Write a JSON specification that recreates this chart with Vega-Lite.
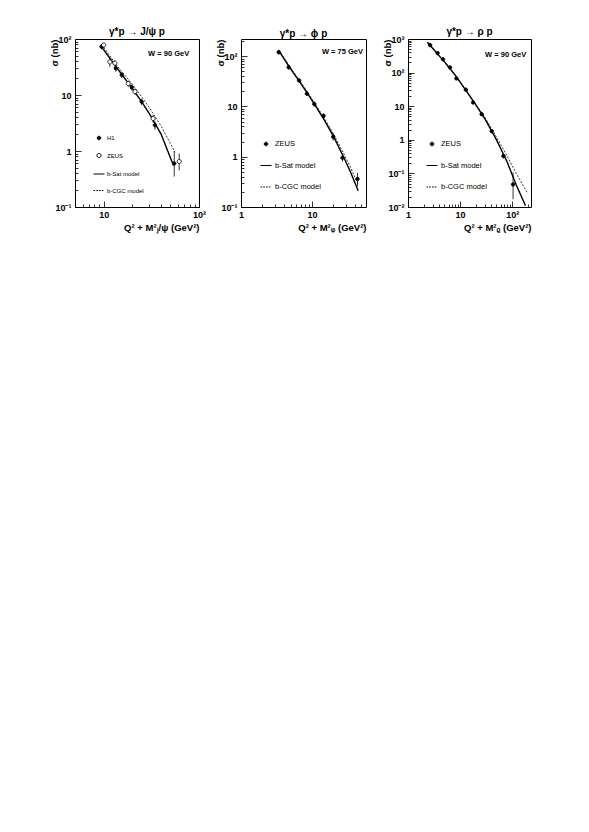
{
  "$schema": "https://vega.github.io/schema/vega-lite/v6.json",
  "background": "white",
  "padding": {"left": 49, "top": 26, "right": 5, "bottom": 5},
  "datasets": {
    "jpsi_pts": [
      {"series": "H1", "x": 9.5, "y": 73, "lo": 65, "hi": 81},
      {"series": "H1", "x": 13.4, "y": 30, "lo": 26, "hi": 34},
      {"series": "H1", "x": 15.5, "y": 22.8, "lo": 20, "hi": 25.6},
      {"series": "H1", "x": 19.7, "y": 13.7, "lo": 12, "hi": 15.4},
      {"series": "H1", "x": 25, "y": 7.6, "lo": 6.6, "hi": 8.6},
      {"series": "H1", "x": 34.5, "y": 2.9, "lo": 2.4, "hi": 3.4},
      {"series": "H1", "x": 55, "y": 0.6, "lo": 0.35, "hi": 1.0},
      {"series": "ZEUS", "x": 10, "y": 78, "lo": 70, "hi": 86},
      {"series": "ZEUS", "x": 11.6, "y": 39, "lo": 32, "hi": 45},
      {"series": "ZEUS", "x": 13.1, "y": 37, "lo": 32, "hi": 42},
      {"series": "ZEUS", "x": 18.1, "y": 16, "lo": 14, "hi": 18},
      {"series": "ZEUS", "x": 21.3, "y": 11.5, "lo": 10, "hi": 13},
      {"series": "ZEUS", "x": 33, "y": 3.8, "lo": 3.2, "hi": 4.4},
      {"series": "ZEUS", "x": 62, "y": 0.65, "lo": 0.45, "hi": 0.9}
    ],
    "jpsi_curves": [
      {"series": "b-Sat model", "x": 9.3, "y": 76},
      {"series": "b-Sat model", "x": 12, "y": 42},
      {"series": "b-Sat model", "x": 15, "y": 25},
      {"series": "b-Sat model", "x": 20, "y": 13},
      {"series": "b-Sat model", "x": 25, "y": 7.6},
      {"series": "b-Sat model", "x": 30, "y": 4.7},
      {"series": "b-Sat model", "x": 40, "y": 2.0},
      {"series": "b-Sat model", "x": 54, "y": 0.55},
      {"series": "b-CGC model", "x": 9.5, "y": 80},
      {"series": "b-CGC model", "x": 12, "y": 46},
      {"series": "b-CGC model", "x": 15, "y": 28},
      {"series": "b-CGC model", "x": 20, "y": 15.5},
      {"series": "b-CGC model", "x": 25, "y": 9.3},
      {"series": "b-CGC model", "x": 30, "y": 6.0},
      {"series": "b-CGC model", "x": 40, "y": 2.8},
      {"series": "b-CGC model", "x": 56, "y": 0.95}
    ],
    "phi_pts": [
      {"series": "ZEUS", "x": 3.4, "y": 120, "lo": 108, "hi": 132},
      {"series": "ZEUS", "x": 4.7, "y": 60, "lo": 54, "hi": 66},
      {"series": "ZEUS", "x": 6.6, "y": 33, "lo": 30, "hi": 36},
      {"series": "ZEUS", "x": 8.5, "y": 18, "lo": 16.2, "hi": 19.8},
      {"series": "ZEUS", "x": 10.8, "y": 11.2, "lo": 10, "hi": 12.4},
      {"series": "ZEUS", "x": 14.6, "y": 6.5, "lo": 5.7, "hi": 7.3},
      {"series": "ZEUS", "x": 20, "y": 2.5, "lo": 2.1, "hi": 2.9},
      {"series": "ZEUS", "x": 27, "y": 0.95, "lo": 0.8, "hi": 1.1},
      {"series": "ZEUS", "x": 44, "y": 0.36, "lo": 0.26, "hi": 0.48}
    ],
    "phi_curves": [
      {"series": "b-Sat model", "x": 3.4, "y": 130},
      {"series": "b-Sat model", "x": 4.7, "y": 64},
      {"series": "b-Sat model", "x": 6.6, "y": 32},
      {"series": "b-Sat model", "x": 8.5, "y": 19},
      {"series": "b-Sat model", "x": 10.7, "y": 11.5},
      {"series": "b-Sat model", "x": 14.7, "y": 5.6},
      {"series": "b-Sat model", "x": 20, "y": 2.6},
      {"series": "b-Sat model", "x": 27, "y": 1.1},
      {"series": "b-Sat model", "x": 35, "y": 0.5},
      {"series": "b-Sat model", "x": 45, "y": 0.21},
      {"series": "b-CGC model", "x": 3.4, "y": 135},
      {"series": "b-CGC model", "x": 4.7, "y": 67},
      {"series": "b-CGC model", "x": 6.6, "y": 34},
      {"series": "b-CGC model", "x": 8.5, "y": 20},
      {"series": "b-CGC model", "x": 10.7, "y": 12.3},
      {"series": "b-CGC model", "x": 14.7, "y": 6.1},
      {"series": "b-CGC model", "x": 20, "y": 2.9},
      {"series": "b-CGC model", "x": 27, "y": 1.3},
      {"series": "b-CGC model", "x": 35, "y": 0.62},
      {"series": "b-CGC model", "x": 45, "y": 0.28}
    ],
    "rho_pts": [
      {"series": "ZEUS", "x": 2.65, "y": 660, "lo": 600, "hi": 720},
      {"series": "ZEUS", "x": 3.7, "y": 380, "lo": 345, "hi": 415},
      {"series": "ZEUS", "x": 4.7, "y": 250, "lo": 228, "hi": 272},
      {"series": "ZEUS", "x": 6.4, "y": 143, "lo": 130, "hi": 156},
      {"series": "ZEUS", "x": 8.5, "y": 67, "lo": 61, "hi": 73},
      {"series": "ZEUS", "x": 12.9, "y": 31, "lo": 28, "hi": 34},
      {"series": "ZEUS", "x": 17.8, "y": 12.9, "lo": 11.7, "hi": 14.1},
      {"series": "ZEUS", "x": 26, "y": 5.8, "lo": 5.2, "hi": 6.4},
      {"series": "ZEUS", "x": 40.6, "y": 1.8, "lo": 1.6, "hi": 2.0},
      {"series": "ZEUS", "x": 68, "y": 0.33, "lo": 0.28, "hi": 0.38},
      {"series": "ZEUS", "x": 104, "y": 0.047, "lo": 0.017, "hi": 0.107}
    ],
    "rho_curves": [
      {"series": "b-Sat model", "x": 2.36, "y": 800},
      {"series": "b-Sat model", "x": 3, "y": 520},
      {"series": "b-Sat model", "x": 5, "y": 210},
      {"series": "b-Sat model", "x": 8, "y": 85},
      {"series": "b-Sat model", "x": 12, "y": 35},
      {"series": "b-Sat model", "x": 20, "y": 11},
      {"series": "b-Sat model", "x": 30, "y": 4.2},
      {"series": "b-Sat model", "x": 50, "y": 1.0},
      {"series": "b-Sat model", "x": 80, "y": 0.22},
      {"series": "b-Sat model", "x": 120, "y": 0.045},
      {"series": "b-Sat model", "x": 180, "y": 0.011},
      {"series": "b-CGC model", "x": 2.36, "y": 800},
      {"series": "b-CGC model", "x": 3, "y": 520},
      {"series": "b-CGC model", "x": 5, "y": 212},
      {"series": "b-CGC model", "x": 8, "y": 86},
      {"series": "b-CGC model", "x": 12, "y": 36},
      {"series": "b-CGC model", "x": 20, "y": 11.5},
      {"series": "b-CGC model", "x": 30, "y": 4.6},
      {"series": "b-CGC model", "x": 50, "y": 1.2},
      {"series": "b-CGC model", "x": 80, "y": 0.33},
      {"series": "b-CGC model", "x": 120, "y": 0.1},
      {"series": "b-CGC model", "x": 200, "y": 0.025}
    ]
  },
  "hconcat": [
    {
      "width": 124,
      "height": 168,
      "title": "γ*p → J/ψ p",
      "layer": [
        {
          "data": {"name": "jpsi_curves"},
          "mark": {"type": "line", "color": "black", "clip": true},
          "encoding": {
            "x": {"field": "x", "type": "quantitative", "scale": {"type": "log", "domain": [5, 100], "nice": false},
              "axis": {"orient": "bottom", "values": [5, 6, 7, 8, 9, 10, 20, 30, 40, 50, 60, 70, 80, 90, 100],
                "labelExpr": "datum.value==10?'10':datum.value==100?'10²':''",
                "tickSize": {"condition": {"test": "indexof([10,100], datum.value) >= 0", "value": -6}, "value": -3},
                "labelPadding": 9, "title": "Q² + M²ⱼ/ψ  (GeV²)", "titleAnchor": "end", "titlePadding": 0}},
            "y": {"field": "y", "type": "quantitative", "scale": {"type": "log", "domain": [0.1, 100], "nice": false},
              "axis": {"orient": "left", "values": [0.1, 0.2, 0.3, 0.4, 0.5, 0.6, 0.7, 0.8, 0.9, 1, 2, 3, 4, 5, 6, 7, 8, 9, 10, 20, 30, 40, 50, 60, 70, 80, 90, 100],
                "labelExpr": "datum.value==100?'10²':datum.value==10?'10':datum.value==1?'1':datum.value==0.1?'10⁻¹':''",
                "tickSize": {"condition": {"test": "indexof([0.1,1,10,100], datum.value) >= 0", "value": -6}, "value": -3},
                "labelPadding": 10, "title": "σ  (nb)", "titleAnchor": "end", "titlePadding": -5}},
            "strokeDash": {"field": "series", "type": "nominal", "scale": {"domain": ["b-Sat model", "b-CGC model"], "range": [[1, 0], [2, 1.5]]}, "legend": null},
            "strokeWidth": {"field": "series", "type": "nominal", "scale": {"domain": ["b-Sat model", "b-CGC model"], "range": [1.4, 0.8]}, "legend": null}
          }
        },
        {
          "data": {"name": "jpsi_pts"},
          "mark": {"type": "rule", "color": "black", "strokeWidth": 0.8},
          "encoding": {
            "x": {"field": "x", "type": "quantitative"},
            "y": {"field": "lo", "type": "quantitative"},
            "y2": {"field": "hi"}
          }
        },
        {
          "data": {"name": "jpsi_pts"},
          "mark": {"type": "point", "strokeWidth": 0.8, "opacity": 1, "size": 120},
          "encoding": {
            "x": {"field": "x", "type": "quantitative"},
            "y": {"field": "y", "type": "quantitative"},
            "shape": {"field": "series", "type": "nominal",
              "scale": {"domain": ["H1", "ZEUS", "b-Sat model", "b-CGC model"],
                "range": ["M-0.32,0A0.32,0.32,0,1,0,0.32,0A0.32,0.32,0,1,0,-0.32,0Z", "M-0.38,0A0.38,0.38,0,1,0,0.38,0A0.38,0.38,0,1,0,-0.38,0Z", "M-1,0H1", "M-1,0H-0.7M-0.5,0H-0.2M0,0H0.3M0.5,0H0.8"]},
              "legend": {"orient": "none", "legendX": 18, "legendY": 93, "title": null, "labelFontSize": 6, "labelFont": "Liberation Sans", "labelColor": "black", "symbolSize": 120, "symbolStrokeWidth": 1, "rowPadding": 7.5, "labelOffset": 2}},
            "fill": {"field": "series", "type": "nominal",
              "scale": {"domain": ["H1", "ZEUS", "b-Sat model", "b-CGC model"], "range": ["black", "white", "transparent", "transparent"]},
              "legend": {"orient": "none", "legendX": 18, "legendY": 93, "title": null, "labelFontSize": 6, "labelFont": "Liberation Sans", "labelColor": "black", "symbolSize": 120, "symbolStrokeWidth": 1, "rowPadding": 7.5, "labelOffset": 2}},
            "stroke": {"field": "series", "type": "nominal",
              "scale": {"domain": ["H1", "ZEUS", "b-Sat model", "b-CGC model"], "range": ["black", "black", "black", "black"]},
              "legend": {"orient": "none", "legendX": 18, "legendY": 93, "title": null, "labelFontSize": 6, "labelFont": "Liberation Sans", "labelColor": "black", "symbolSize": 120, "symbolStrokeWidth": 1, "rowPadding": 7.5, "labelOffset": 2}}
          }
        },
        {
          "data": {"values": [{}]},
          "mark": {"type": "text", "text": "W = 90 GeV", "font": "Liberation Sans", "fontWeight": "bold", "fontSize": 7.5, "align": "center", "baseline": "middle", "color": "black"},
          "encoding": {
            "x": {"datum": 48, "type": "quantitative"},
            "y": {"datum": 55, "type": "quantitative"}
          }
        }
      ]
    },
    {
      "width": 125,
      "height": 168,
      "title": "γ*p → ϕ p",
      "layer": [
        {
          "data": {"name": "phi_curves"},
          "mark": {"type": "line", "color": "black", "clip": true},
          "encoding": {
            "x": {"field": "x", "type": "quantitative", "scale": {"type": "log", "domain": [1, 58], "nice": false},
              "axis": {"orient": "bottom", "values": [1, 2, 3, 4, 5, 6, 7, 8, 9, 10, 20, 30, 40, 50],
                "labelExpr": "datum.value==1?'1':datum.value==10?'10':''",
                "tickSize": {"condition": {"test": "indexof([1,10], datum.value) >= 0", "value": -6}, "value": -3},
                "labelPadding": 9, "title": "Q² + M²ᵩ  (GeV²)", "titleAnchor": "end", "titlePadding": 0}},
            "y": {"field": "y", "type": "quantitative", "scale": {"type": "log", "domain": [0.1, 220], "nice": false},
              "axis": {"orient": "left", "values": [0.1, 0.2, 0.3, 0.4, 0.5, 0.6, 0.7, 0.8, 0.9, 1, 2, 3, 4, 5, 6, 7, 8, 9, 10, 20, 30, 40, 50, 60, 70, 80, 90, 100, 200],
                "labelExpr": "datum.value==100?'10²':datum.value==10?'10':datum.value==1?'1':datum.value==0.1?'10⁻¹':''",
                "tickSize": {"condition": {"test": "indexof([0.1,1,10,100], datum.value) >= 0", "value": -6}, "value": -3},
                "labelPadding": 10, "title": "σ  (nb)", "titleAnchor": "end", "titlePadding": -5}},
            "strokeDash": {"field": "series", "type": "nominal", "scale": {"domain": ["b-Sat model", "b-CGC model"], "range": [[1, 0], [2, 1.5]]}, "legend": null},
            "strokeWidth": {"field": "series", "type": "nominal", "scale": {"domain": ["b-Sat model", "b-CGC model"], "range": [1.4, 0.8]}, "legend": null}
          }
        },
        {
          "data": {"name": "phi_pts"},
          "mark": {"type": "rule", "color": "black", "strokeWidth": 0.8},
          "encoding": {
            "x": {"field": "x", "type": "quantitative"},
            "y": {"field": "lo", "type": "quantitative"},
            "y2": {"field": "hi"}
          }
        },
        {
          "data": {"name": "phi_pts"},
          "mark": {"type": "point", "strokeWidth": 0.8, "opacity": 1, "size": 120},
          "encoding": {
            "x": {"field": "x", "type": "quantitative"},
            "y": {"field": "y", "type": "quantitative"},
            "shape": {"field": "series", "type": "nominal",
              "scale": {"domain": ["ZEUS", "b-Sat model", "b-CGC model"],
                "range": ["M-0.32,0A0.32,0.32,0,1,0,0.32,0A0.32,0.32,0,1,0,-0.32,0Z", "M-1,0H1", "M-1,0H-0.7M-0.5,0H-0.2M0,0H0.3M0.5,0H0.8"]},
              "legend": {"orient": "none", "legendX": 19, "legendY": 99, "title": null, "labelFontSize": 7.5, "labelFont": "Liberation Sans", "labelColor": "black", "symbolSize": 120, "symbolStrokeWidth": 1, "rowPadding": 11.5, "labelOffset": 3}},
            "fill": {"field": "series", "type": "nominal",
              "scale": {"domain": ["ZEUS", "b-Sat model", "b-CGC model"], "range": ["black", "transparent", "transparent"]},
              "legend": {"orient": "none", "legendX": 19, "legendY": 99, "title": null, "labelFontSize": 7.5, "labelFont": "Liberation Sans", "labelColor": "black", "symbolSize": 120, "symbolStrokeWidth": 1, "rowPadding": 11.5, "labelOffset": 3}},
            "stroke": {"field": "series", "type": "nominal",
              "scale": {"domain": ["ZEUS", "b-Sat model", "b-CGC model"], "range": ["black", "black", "black"]},
              "legend": {"orient": "none", "legendX": 19, "legendY": 99, "title": null, "labelFontSize": 7.5, "labelFont": "Liberation Sans", "labelColor": "black", "symbolSize": 120, "symbolStrokeWidth": 1, "rowPadding": 11.5, "labelOffset": 3}}
          }
        },
        {
          "data": {"values": [{}]},
          "mark": {"type": "text", "text": "W = 75 GeV", "font": "Liberation Sans", "fontWeight": "bold", "fontSize": 7.5, "align": "center", "baseline": "middle", "color": "black"},
          "encoding": {
            "x": {"datum": 27, "type": "quantitative"},
            "y": {"datum": 120, "type": "quantitative"}
          }
        }
      ]
    },
    {
      "width": 123,
      "height": 168,
      "title": "γ*p → ρ p",
      "layer": [
        {
          "data": {"name": "rho_curves"},
          "mark": {"type": "line", "color": "black", "clip": true},
          "encoding": {
            "x": {"field": "x", "type": "quantitative", "scale": {"type": "log", "domain": [1, 230], "nice": false},
              "axis": {"orient": "bottom", "values": [1, 2, 3, 4, 5, 6, 7, 8, 9, 10, 20, 30, 40, 50, 60, 70, 80, 90, 100, 200],
                "labelExpr": "datum.value==1?'1':datum.value==10?'10':datum.value==100?'10²':''",
                "tickSize": {"condition": {"test": "indexof([1,10,100], datum.value) >= 0", "value": -6}, "value": -3},
                "labelPadding": 9, "title": "Q² + M²ᵨ  (GeV²)", "titleAnchor": "end", "titlePadding": 0}},
            "y": {"field": "y", "type": "quantitative", "scale": {"type": "log", "domain": [0.01, 1000], "nice": false},
              "axis": {"orient": "left", "values": [0.01, 0.02, 0.03, 0.04, 0.05, 0.06, 0.07, 0.08, 0.09, 0.1, 0.2, 0.3, 0.4, 0.5, 0.6, 0.7, 0.8, 0.9, 1, 2, 3, 4, 5, 6, 7, 8, 9, 10, 20, 30, 40, 50, 60, 70, 80, 90, 100, 200, 300, 400, 500, 600, 700, 800, 900, 1000],
                "labelExpr": "datum.value==1000?'10³':datum.value==100?'10²':datum.value==10?'10':datum.value==1?'1':datum.value==0.1?'10⁻¹':datum.value==0.01?'10⁻²':''",
                "tickSize": {"condition": {"test": "indexof([0.01,0.1,1,10,100,1000], datum.value) >= 0", "value": -6}, "value": -3},
                "labelPadding": 10, "title": "σ  (nb)", "titleAnchor": "end", "titlePadding": -5}},
            "strokeDash": {"field": "series", "type": "nominal", "scale": {"domain": ["b-Sat model", "b-CGC model"], "range": [[1, 0], [2, 1.5]]}, "legend": null},
            "strokeWidth": {"field": "series", "type": "nominal", "scale": {"domain": ["b-Sat model", "b-CGC model"], "range": [1.4, 0.8]}, "legend": null}
          }
        },
        {
          "data": {"name": "rho_pts"},
          "mark": {"type": "rule", "color": "black", "strokeWidth": 0.8},
          "encoding": {
            "x": {"field": "x", "type": "quantitative"},
            "y": {"field": "lo", "type": "quantitative"},
            "y2": {"field": "hi"}
          }
        },
        {
          "data": {"name": "rho_pts"},
          "mark": {"type": "point", "strokeWidth": 0.8, "opacity": 1, "size": 120},
          "encoding": {
            "x": {"field": "x", "type": "quantitative"},
            "y": {"field": "y", "type": "quantitative"},
            "shape": {"field": "series", "type": "nominal",
              "scale": {"domain": ["ZEUS", "b-Sat model", "b-CGC model"],
                "range": ["M-0.32,0A0.32,0.32,0,1,0,0.32,0A0.32,0.32,0,1,0,-0.32,0Z", "M-1,0H1", "M-1,0H-0.7M-0.5,0H-0.2M0,0H0.3M0.5,0H0.8"]},
              "legend": {"orient": "none", "legendX": 18, "legendY": 99, "title": null, "labelFontSize": 7.5, "labelFont": "Liberation Sans", "labelColor": "black", "symbolSize": 120, "symbolStrokeWidth": 1, "rowPadding": 11.5, "labelOffset": 3}},
            "fill": {"field": "series", "type": "nominal",
              "scale": {"domain": ["ZEUS", "b-Sat model", "b-CGC model"], "range": ["black", "transparent", "transparent"]},
              "legend": {"orient": "none", "legendX": 18, "legendY": 99, "title": null, "labelFontSize": 7.5, "labelFont": "Liberation Sans", "labelColor": "black", "symbolSize": 120, "symbolStrokeWidth": 1, "rowPadding": 11.5, "labelOffset": 3}},
            "stroke": {"field": "series", "type": "nominal",
              "scale": {"domain": ["ZEUS", "b-Sat model", "b-CGC model"], "range": ["black", "black", "black"]},
              "legend": {"orient": "none", "legendX": 18, "legendY": 99, "title": null, "labelFontSize": 7.5, "labelFont": "Liberation Sans", "labelColor": "black", "symbolSize": 120, "symbolStrokeWidth": 1, "rowPadding": 11.5, "labelOffset": 3}}
          }
        },
        {
          "data": {"values": [{}]},
          "mark": {"type": "text", "text": "W = 90 GeV", "font": "Liberation Sans", "fontWeight": "bold", "fontSize": 7.5, "align": "center", "baseline": "middle", "color": "black"},
          "encoding": {
            "x": {"datum": 75, "type": "quantitative"},
            "y": {"datum": 330, "type": "quantitative"}
          }
        }
      ]
    }
  ],
  "spacing": 42,
  "bounds": "flush",
  "resolve": {
    "scale": {"x": "independent", "y": "independent", "shape": "independent", "fill": "independent", "stroke": "independent", "strokeDash": "independent", "strokeWidth": "independent"},
    "legend": {"shape": "independent", "fill": "independent", "stroke": "independent"}
  },
  "config": {
    "view": {"stroke": "black", "strokeWidth": 1},
    "font": "Liberation Sans",
    "axis": {"domain": false, "grid": false, "labelFont": "Liberation Sans", "labelFontWeight": "bold", "labelFontSize": 9, "labelColor": "black", "tickColor": "black", "tickWidth": 0.8, "titleFont": "Liberation Sans", "titleFontWeight": "bold", "titleFontSize": 9.5, "titleColor": "black", "labelFlush": false, "labelOverlap": false},
    "title": {"font": "Liberation Sans", "fontWeight": "bold", "fontSize": 10, "offset": -2, "color": "black", "anchor": "middle", "frame": "group"},
    "legend": {"labelFont": "Liberation Sans"}
  }
}
